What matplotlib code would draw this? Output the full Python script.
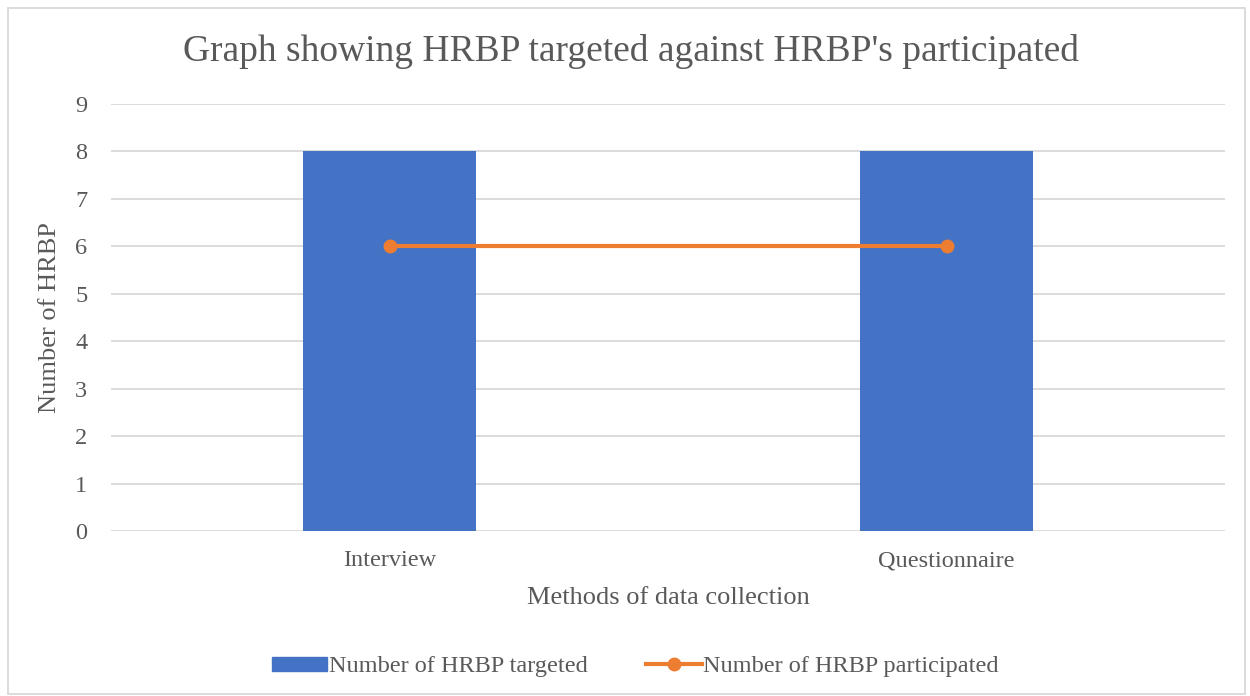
import numpy as np
import matplotlib.pyplot as plt
from matplotlib.patches import Rectangle
from matplotlib.lines import Line2D

methods = ["Interview", "Questionnaire"]
targeted = [8, 8]
participated = [6, 6]

plt.rcParams['font.family'] = ['Liberation Serif', 'DejaVu Serif']
grey = '#595959'

fig = plt.figure(figsize=(12.5, 6.96), dpi=100)
ax = fig.add_axes([0.0888, 0.237, 0.8912, 0.6136])

x = np.arange(len(methods))
ax.bar(x, targeted, width=0.312, color='#4472C4', zorder=2, label='Number of HRBP targeted')
ax.plot(x, participated, color='#ED7D31', lw=3, marker='o', ms=9, zorder=3,
        label='Number of HRBP participated')

ax.set_xlim(-0.5, 1.5)
ax.set_ylim(0, 9)
ax.set_yticks(range(0, 10))
ax.set_xticks(x)
ax.set_xticklabels(methods)
ax.yaxis.grid(True, color='#d9d9d9', lw=1.3, zorder=0)
ax.set_axisbelow(True)
for s in ax.spines.values():
    s.set_visible(False)
ax.tick_params(axis='both', length=0, labelsize=17.5, labelcolor=grey)
ax.tick_params(axis='y', pad=17)
ax.tick_params(axis='x', pad=14)

ax.set_xlabel("Methods of data collection", fontsize=19, color=grey, labelpad=11)
ax.set_ylabel("Number of HRBP", fontsize=19, color=grey, labelpad=10)
fig.text(0.505, 0.926, "Graph showing HRBP targeted against HRBP's participated",
         ha='center', va='center', fontsize=27, color=grey)

handles = [Rectangle((0, 0), 1, 0.6, color='#4472C4'),
           Line2D([0], [0], color='#ED7D31', lw=3, marker='o', ms=9)]
fig.legend(handles, ['Number of HRBP targeted', 'Number of HRBP participated'],
           loc='center', bbox_to_anchor=(0.508, 0.042), ncol=2, frameon=False,
           fontsize=17.5, labelcolor=grey, handlelength=2.3, handleheight=0.5,
           handletextpad=0.05, columnspacing=2.4)

fig.patches.append(Rectangle((0.006, 0.003), 0.99, 0.985, transform=fig.transFigure,
                             fill=False, edgecolor='#d9d9d9', lw=1.3))

fig.savefig('out.png', dpi=100)
